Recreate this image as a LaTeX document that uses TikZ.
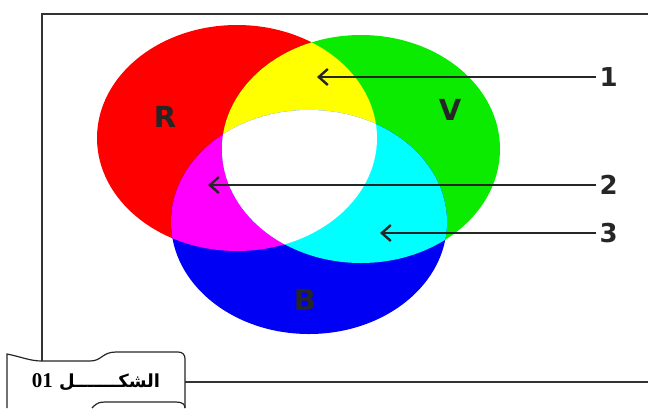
\documentclass[tikz,border=0pt]{standalone}
\usepackage{fontspec}
\usetikzlibrary{arrows.meta}
\TeXXeTstate=1
\newfontfamily\letterfont{DejaVu Sans}
\newfontfamily\arabicfont[Script=Arabic]{DejaVu Sans}
\newfontfamily\numfont{Liberation Serif}

\definecolor{colR}{RGB}{255,0,0}
\definecolor{colV}{RGB}{10,235,0}
\definecolor{colB}{RGB}{0,0,245}
\definecolor{colY}{RGB}{255,255,0}
\definecolor{colM}{RGB}{255,0,255}
\definecolor{colC}{RGB}{0,255,255}

\newcommand{\diskR}{(237,138) ellipse [x radius=140pt, y radius=113pt]}
\newcommand{\diskV}{(361,149) ellipse [x radius=139pt, y radius=114pt]}
\newcommand{\diskB}{(309,222) ellipse [x radius=138pt, y radius=112pt]}

\begin{document}
\begin{tikzpicture}[x=1pt,y=-1pt,
  letter/.style={font=\letterfont\bfseries\fontsize{29}{29}\selectfont,text=black!85},
  number/.style={font=\letterfont\bfseries\fontsize{26}{26}\selectfont,text=black!85},
  pointer/.style={line width=2pt,black!85,-{Straight Barb[length=9pt,width=16pt,line width=2.4pt]}},
  frameline/.style={line width=1.6pt,black!80}]
\useasboundingbox (0,0) rectangle (648,408);

% frame
\draw[frameline] (648,14) -- (42,14) -- (42,361);
\draw[frameline] (185,382) -- (648,382);

% caption scroll
\draw[line width=1.2pt,black!85,fill=white] (7,408) -- (7,354) .. controls (22,357) and (30,361) .. (42,361) -- (90,361) .. controls (102,361) and (102,352) .. (116,352) -- (178,352) .. controls (183,352) and (185,355) .. (185,359) -- (185,408);
\draw[line width=1.2pt,black!85] (92,408) .. controls (98,402) .. (112,402) -- (176,402) .. controls (182,402) and (185,404) .. (185,408);
\node (caption) at (96,382) {\arabicfont\bfseries\fontsize{18}{18}\selectfont\beginR الشكـــــــل \beginL{\numfont\bfseries\fontsize{21}{21}\selectfont 01}\endL\endR};

% colour disks
\fill[colR] \diskR;
\fill[colV] \diskV;
\fill[colB] \diskB;
\begin{scope}
\clip \diskR;
\fill[colY] \diskV;
\end{scope}
\begin{scope}
\clip \diskR;
\fill[colM] \diskB;
\end{scope}
\begin{scope}
\clip \diskV;
\fill[colC] \diskB;
\end{scope}
\begin{scope}
\clip \diskR;
\clip \diskV;
\fill[white] \diskB;
\end{scope}

\node[letter] (R) at (165,117) {R};
\node[letter] (V) at (450,110) {V};
\node[letter] (B) at (305,300) {B};

% pointers
\node[number,anchor=west] (n1) at (596,77) {1};
\node[number,anchor=west] (n2) at (596,185) {2};
\node[number,anchor=west] (n3) at (596,233) {3};
\coordinate (t1) at (317,77);
\coordinate (t2) at (208,185);
\coordinate (t3) at (380,233);
\draw[pointer] (n1) -- (t1);
\draw[pointer] (n2) -- (t2);
\draw[pointer] (n3) -- (t3);

\end{tikzpicture}
\end{document}
